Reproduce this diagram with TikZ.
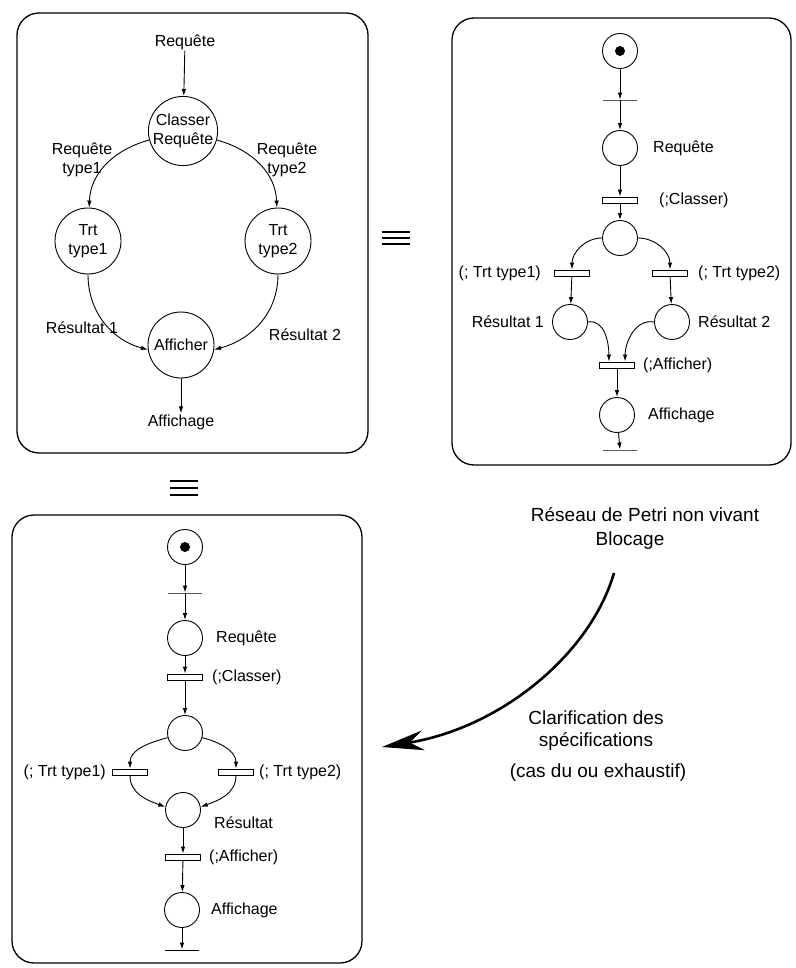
\documentclass[tikz,border=0pt]{standalone}
\usepackage{fontspec}
\setmainfont{Liberation Sans}
\usetikzlibrary{arrows.meta,calc}
\begin{document}
\begin{tikzpicture}[x=1pt,y=-1pt,
  every node/.style={font=\fontsize{16}{19}\selectfont, inner sep=1pt},
  bigplace/.style={circle, draw, line width=0.9pt, minimum size=66pt, inner sep=0pt, align=center},
  place/.style={circle, draw, line width=0.9pt, minimum size=35pt, inner sep=0pt},
  token/.style={path picture={\fill (path picture bounding box.center) circle (5pt);}},
  trans/.style={rectangle, draw, line width=0.9pt, minimum width=35pt, minimum height=6pt, inner sep=0pt},
  barT/.style={rectangle, draw, line width=0.9pt, minimum width=34pt, minimum height=0pt, inner sep=0pt},
  arr/.style={line width=0.9pt, -{Latex[length=7pt,width=4.5pt]}},
  frame/.style={line width=1.3pt, rounded corners=22pt},
  equiv/.style={line width=1.1pt},
  note/.style={font=\fontsize{19}{22}\selectfont, align=center}
]
\useasboundingbox (0,0) rectangle (795,968);

% ---------- frames ----------
\draw[frame] (17,13) rectangle (368,453);
\draw[frame] (452,18) rectangle (791,465);
\draw[frame] (12,515) rectangle (362,963);

% ---------- equivalence signs ----------
\draw[equiv] (382,232) -- (410,232) (382,238) -- (410,238) (382,244) -- (410,244);
\draw[equiv] (170,481) -- (198,481) (170,488) -- (198,488) (170,495) -- (198,495);

% ---------- top-left: data flow ----------
\node (rq) at (185,42) {Requête};
\node[bigplace] (cl) at (183,131) {Classer\\Requête};
\node[bigplace] (t1) at (88,241) {Trt\\type1};
\node[bigplace] (t2) at (278,241) {Trt\\type2};
\node[bigplace] (af) at (181,345) {Afficher};
\node (ag) at (181,422) {Affichage};
\draw[arr] (rq) -- (cl);
\draw[arr] (cl.195) to[out=195,in=88] (t1.88);
\draw[arr] (cl.345) to[out=-15,in=92] (t2.92);
\draw[arr] (t1.south) to[out=-90,in=165] (af.188);
\draw[arr] (t2.south) to[out=-90,in=15] (af.-8);
\draw[arr] (af) -- (ag);
\node[align=center] (l1) at (82,160) {Requête\\type1};
\node[align=center] (l2) at (287,160) {Requête\\type2};
\node (l3) at (82,328) {Résultat 1};
\node (l4) at (305,335) {Résultat 2};

% ---------- top-right: Petri net (blocking) ----------
\node[place,token] (a0) at (620,51) {};
\node[barT] (ab0) at (620,100) {};
\node[place] (a1) at (620,148) {};
\node[anchor=west] at (652,148) {Requête};
\node[trans] (ac) at (620,200) {};
\node[anchor=west] at (658,200) {(;Classer)};
\node[place] (a2) at (620,238) {};
\node[trans] (at1) at (572,273) {};
\node[anchor=east] at (542,273) {(; Trt type1)};
\node[trans] (at2) at (670,273) {};
\node[anchor=west] at (697,273) {(; Trt type2)};
\node[place] (ar1) at (570,322) {};
\node[anchor=east] at (545,322) {Résultat 1};
\node[place] (ar2) at (672,322) {};
\node[anchor=west] at (697,322) {Résultat 2};
\node[trans] (ata) at (617,365) {};
\node[anchor=west] at (642,365) {(;Afficher)};
\node[place] (aa) at (617,415) {};
\node[anchor=west] at (647,415) {Affichage};
\node[barT] (abe) at (620,450) {};
\draw[arr] (a0) -- (ab0);
\draw[arr] (ab0) -- (a1);
\draw[arr] (a1) -- (ac);
\draw[arr] (ac) -- (a2);
\draw[arr] (a2.180) to[out=180,in=90] (at1.north);
\draw[arr] (a2.0) to[out=0,in=90] (at2.north);
\draw[arr] (at1) -- (ar1);
\draw[arr] (at2) -- (ar2);
\draw[arr] (ar1.east) to[out=10,in=90] ($(ata.north)!0.45!(ata.north west)$);
\draw[arr] (ar2.west) to[out=170,in=90] ($(ata.north)!0.45!(ata.north east)$);
\draw[arr] (ata) -- (aa);
\draw[arr] (aa) -- (abe);

% ---------- bottom-left: Petri net (clarified) ----------
\node[place,token] (b0) at (185,547) {};
\node[barT] (bb0) at (185,593) {};
\node[place] (b1) at (185,638) {};
\node[anchor=west] at (215,638) {Requête};
\node[trans] (bc) at (185,677) {};
\node[anchor=west] at (211,677) {(;Classer)};
\node[place] (b2) at (185,733) {};
\node[trans] (bt1) at (130,772) {};
\node[anchor=east] at (107,772) {(; Trt type1)};
\node[trans] (bt2) at (236,772) {};
\node[anchor=west] at (258,772) {(; Trt type2)};
\node[place] (br) at (183,810) {};
\node[anchor=west] at (213,823) {Résultat};
\node[trans] (bta) at (183,857) {};
\node[anchor=west] at (208,857) {(;Afficher)};
\node[place] (ba) at (182,910) {};
\node[anchor=west] at (210,910) {Affichage};
\node[barT] (bbe) at (182,950) {};
\draw[arr] (b0) -- (bb0);
\draw[arr] (bb0) -- (b1);
\draw[arr] (b1) -- (bc);
\draw[arr] (bc) -- (b2);
\draw[arr] (b2.195) to[out=195,in=90] (bt1.north);
\draw[arr] (b2.-15) to[out=-15,in=90] (bt2.north);
\draw[arr] (bt1.south) to[out=-90,in=160] (br.170);
\draw[arr] (bt2.south) to[out=-90,in=20] (br.10);
\draw[arr] (br) -- (bta);
\draw[arr] (bta) -- (ba);
\draw[arr] (ba) -- (bbe);

% ---------- transformation arrow ----------
\node[note] (n1) at (645,515) {Réseau de Petri non vivant};
\node[note] (n2) at (630,541) {Blocage};
\node[note] (n3) at (596,731) {Clarification des\\spécifications};
\node[note] (n4) at (598,773) {(cas du ou exhaustif)};
\coordinate (s) at (614,573);
\coordinate (e) at (382,747);
\draw[line width=2.6pt, -{Stealth[length=42pt,width=20pt,inset=14pt]}]
  (s) .. controls (590,655) and (500,728) .. (e);
\end{tikzpicture}
\end{document}
